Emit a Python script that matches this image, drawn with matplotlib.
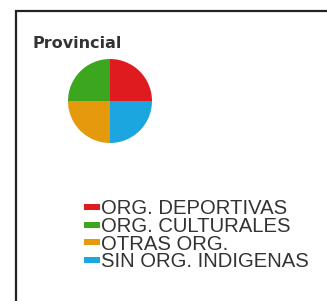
import matplotlib
matplotlib.use("Agg")
import matplotlib.pyplot as plt
from matplotlib.patches import Rectangle

labels = ["ORG. DEPORTIVAS", "ORG. CULTURALES", "OTRAS ORG.", "SIN ORG. INDIGENAS"]
values = [25, 25, 25, 25]
colors = ["#e01b1f", "#3ca61f", "#e59a0e", "#1ba6e0"]
title = "Provincial"

W, H = 327, 301
fig = plt.figure(figsize=(W / 100, H / 100), dpi=100)
fig.patch.set_facecolor("white")


def fx(px):
    return px / W


def fy(py):
    return 1 - py / H


# outer frame, cut off on the right and bottom
fig.add_artist(Rectangle((fx(16), -0.1), 1.2, fy(11) + 0.1,
                         transform=fig.transFigure, fill=False,
                         edgecolor="#222222", linewidth=1.6))

fig.text(fx(32), fy(44), title, fontsize=11.5, fontweight="bold",
         color="#333333", va="center", ha="left")

# pie
r = 42
cx, cy = 110, 101
ax = fig.add_axes([fx(cx - r), fy(cy + r), fx(2 * r), 2 * r / H])
ax.pie(values, colors=colors, startangle=0, counterclock=True,
       wedgeprops={"linewidth": 0})
ax.set_xlim(-1, 1)
ax.set_ylim(-1, 1)
ax.set_aspect("equal")
ax.axis("off")

# legend rows drawn by hand to get the tight spacing
row0, step = 207, 17.5
for i, (lab, col) in enumerate(zip(labels, colors)):
    yc = row0 + i * step
    fig.add_artist(Rectangle((fx(84), fy(yc + 3)), fx(16) - fx(0), 6 / H,
                             transform=fig.transFigure, facecolor=col,
                             edgecolor="none"))
    fig.text(fx(101), fy(yc), lab, fontsize=14.6, color="#333333",
             va="center_baseline", ha="left", family="Liberation Sans")

fig.savefig("out.png", dpi=100)
